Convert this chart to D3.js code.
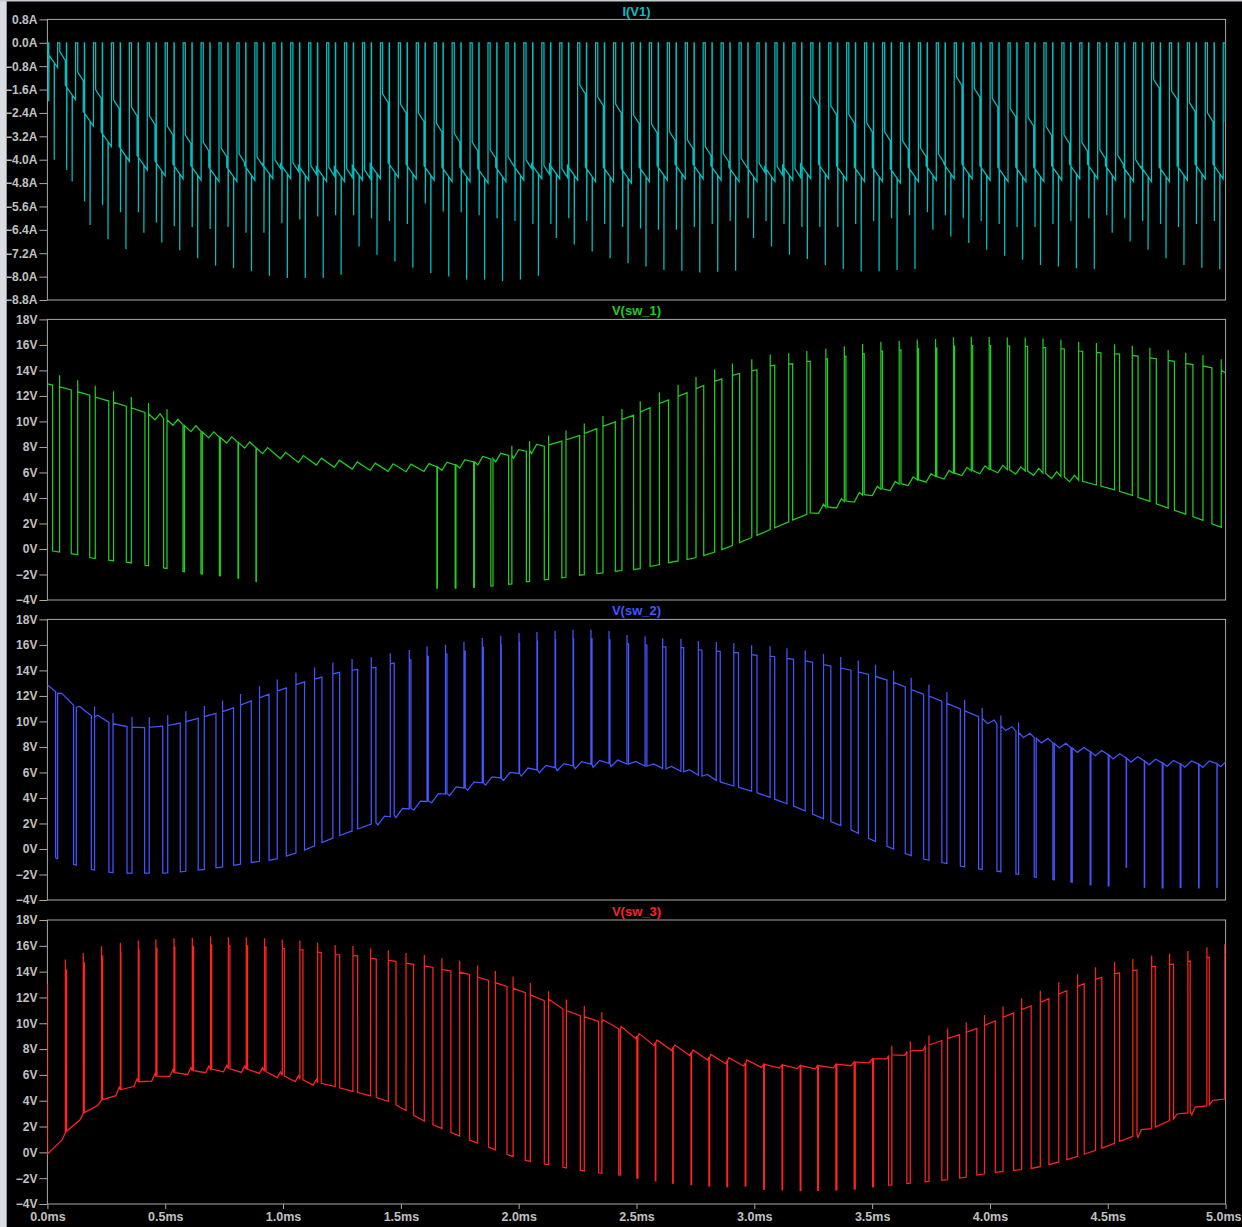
<!DOCTYPE html>
<html><head><meta charset="utf-8">
<script src="https://cdn.jsdelivr.net/npm/d3@7/dist/d3.min.js"></script>
<style>
html,body{margin:0;padding:0;background:#000;overflow:hidden;}
svg{display:block;}
</style></head><body>
<svg id="chart" width="1242" height="1227"></svg>
<script>
// ---------------- DATA ----------------
const timeTicks = [0, 0.5, 1, 1.5, 2, 2.5, 3, 3.5, 4, 4.5, 5];          // ms
const currentTicks = [0.8, 0, -0.8, -1.6, -2.4, -3.2, -4, -4.8, -5.6, -6.4, -7.2, -8, -8.8]; // A
const voltTicks = [18, 16, 14, 12, 10, 8, 6, 4, 2, 0, -2, -4];          // V
const traceNames = ["I(V1)", "V(sw_1)", "V(sw_2)", "V(sw_3)"];
const pwmPeriod = 0.0761;   // ms, switching period (66 periods over 5 ms)
const timeEnd = 5;          // ms

// ---- V(sw_1): per switching period k = 0..65 ----
const sw1Hi = [12.9,12.6,12.2,11.75,11.35,10.9,10.4,9.95,9.45,8.95,8.55,
  8.15,7.55,7.2,6.98,6.78,6.63,6.5,6.41,6.37,6.35,6.4,
  6.5,6.7,6.95,7.2,7.5,7.9,8.3,8.7,9.25,9.8,10.3,
  10.9,11.55,12.1,12.7,13.25,13.7,14.0,14.4,14.5,14.7,14.9,
  15.1,15.3,15.5,15.6,15.7,15.75,15.9,15.95,15.95,15.9,15.9,
  15.8,15.7,15.5,15.4,15.3,15.15,14.95,14.75,14.5,14.3,14.0];
const sw1Lo = [-0.2,-0.4,-0.72,-0.9,-1.06,-1.3,-1.5,-1.77,-1.95,-2.1,-2.3,
  -2.55,null,null,null,null,null,null,null,null,null,-3.07,
  -3.07,-3.0,-2.9,-2.76,-2.55,-2.4,-2.24,-2.03,-1.9,-1.71,-1.6,
  -1.3,-1.0,-0.77,-0.4,0.1,0.7,1.3,1.9,2.5,3.08,3.5,
  3.98,4.5,4.9,5.3,5.55,5.8,6.07,6.2,6.28,6.15,6.07,
  5.8,5.55,5.15,4.8,4.37,3.9,3.38,2.88,2.4,1.84,null];
const sw1Dn = [0.29,0.33,0.36,0.42,0.40,0.44,0.48,0.56,0.56,0.59,0.63,
  0.63,null,null,null,null,null,null,null,null,null,0.72,
  0.74,0.77,0.73,0.72,0.71,0.71,0.69,0.68,0.64,0.67,0.69,
  0.61,0.64,0.67,0.6,0.61,0.6,0.57,0.56,0.56,0.54,0.5,
  0.53,0.55,0.57,0.6,0.58,0.6,0.59,0.6,0.6,0.66,0.66,
  0.67,0.71,0.73,0.75,0.79,0.82,0.84,0.85,0.88,0.94,null];
const sw1Up = [0.68,0.69,0.67,0.69,0.68,0.64,0.67,0.64,0.64,0.64,0.66,
  0.65,null,null,null,null,null,null,null,null,null,0.75,
  0.78,0.81,0.85,0.90,0.89,0.95,0.92,0.94,0.98,1.04,1.06,
  1.13,1.17,1.17,1.21,1.2,1.28,1.31,1.34,1.35,1.41,1.44,
  1.46,1.48,1.5,1.51,1.53,1.53,1.52,1.52,1.53,1.53,1.52,
  1.52,1.51,1.5,1.51,1.5,1.48,1.5,1.48,1.44,1.46,null];

// ---- V(sw_2) ----
const sw2Hi = [12.6,11.7,10.7,10.1,9.65,9.5,9.55,9.75,10.1,10.5,10.9,
  11.45,12.0,12.5,13.0,13.4,13.8,14.05,14.2,14.55,14.8,15.1,
  15.26,15.5,15.8,16.0,16.2,16.3,16.4,16.5,16.5,16.4,16.1,
  16.0,15.85,15.8,15.6,15.5,15.4,15.2,15.1,14.9,14.7,14.4,
  14.1,13.8,13.4,12.9,12.3,11.8,11.2,10.6,10.0,9.45,8.9,
  8.5,8.1,7.75,7.5,7.25,7.0,6.8,6.7,6.65,6.65,6.7];
const sw2Lo = [-0.72,-1.24,-1.63,-1.84,-1.9,-1.9,-1.9,-1.77,-1.63,-1.45,-1.24,
  -1.0,-0.85,-0.46,0.06,0.7,1.24,1.76,2.28,2.9,3.46,4.05,
  4.6,5.0,5.4,5.75,6.1,6.3,6.45,6.6,6.7,6.72,6.6,
  6.4,6.2,5.94,5.55,5.08,4.7,4.24,3.72,3.2,2.54,2.0,
  1.37,0.7,0.1,-0.46,-0.85,-1.1,-1.37,-1.58,-1.76,-1.97,-2.2,
  -2.4,-2.6,-2.8,-2.9,-1.4,-3.0,-3.05,-3.0,-3.05,-3.0,null];
const sw2Dn = [0.46,0.46,0.45,0.43,0.44,0.42,0.43,0.41,0.41,0.4,0.38,
  0.37,0.36,0.32,0.34,0.31,0.3,0.3,0.32,0.34,0.27,0.24,
  0.28,0.3,0.31,0.31,0.33,0.33,0.34,0.34,0.37,0.37,0.41,
  0.43,0.49,0.48,0.5,0.52,0.54,0.57,0.56,0.61,0.67,0.69,
  0.81,0.79,0.82,0.84,0.86,0.88,0.91,0.93,0.95,1.01,1.03,
  1.07,1.08,1.15,1.16,1.16,1.17,1.17,1.17,1.2,1.22,null];
const sw2Up = [0.57,0.61,0.63,0.66,0.72,0.68,0.71,0.72,0.75,0.77,0.77,
  0.83,0.82,0.86,0.9,0.92,0.99,1.06,1.12,1.18,1.17,1.2,
  1.23,1.25,1.28,1.3,1.3,1.31,1.31,1.31,1.32,1.32,1.33,
  1.31,1.33,1.3,1.3,1.28,1.27,1.3,1.24,1.26,1.28,1.24,
  1.22,1.18,1.19,1.17,1.16,1.16,1.15,1.13,1.17,1.16,1.14,
  1.15,1.15,1.19,1.2,1.18,1.19,1.21,1.21,1.22,1.23,null];

// ---- V(sw_3) ----
const sw3Hi = [13.0,14.1,14.65,15.2,15.5,15.7,15.8,15.9,15.95,16.06,16.0,
  16.0,15.9,15.8,15.7,15.5,15.3,15.25,15.0,14.85,14.6,14.4,
  14.1,13.9,13.45,13.0,12.55,12.0,11.35,10.75,10.35,9.8,9.3,
  8.7,8.3,7.9,7.55,7.2,7.0,6.85,6.8,6.75,6.7,6.75,
  6.9,7.1,7.4,7.67,8.0,8.5,8.96,9.43,10.0,10.64,11.2,
  11.75,12.4,12.97,13.5,13.87,14.1,14.4,14.57,14.8,15.1,15.3];
const sw3Lo = [0.7,2.4,3.7,4.45,5.25,5.67,6.1,6.25,6.4,6.5,6.45,
  6.43,6.1,5.78,5.5,5.25,4.85,4.5,4.15,3.5,2.6,2.0,
  1.4,0.83,0.31,-0.25,-0.67,-0.93,-1.18,-1.42,-1.6,-1.75,-2.0,
  -2.2,-2.4,-2.5,-2.6,-2.65,-2.6,-2.86,-2.9,-2.97,-2.95,-2.9,
  -2.84,-2.66,-2.53,-2.4,-2.27,-2.14,-1.96,-1.7,-1.5,-1.37,-1.2,
  -0.85,-0.45,0.0,0.5,1.05,1.6,2.2,2.85,3.35,3.9,4.3];
const sw3Dn = [0.01,0.07,0.06,0.08,0.1,0.11,0.11,0.11,0.15,0.16,0.18,
  0.16,0.19,0.21,0.25,0.27,0.3,0.3,0.34,0.44,0.42,0.5,
  0.5,0.54,0.6,0.63,0.65,0.71,0.75,0.72,0.74,0.86,0.87,
  0.9,0.87,0.89,0.89,0.89,0.91,0.94,0.97,0.98,0.95,0.97,
  0.99,1.02,0.91,0.93,0.95,0.88,0.87,0.83,0.86,0.88,0.86,
  0.85,0.85,0.82,0.8,0.79,0.76,0.78,0.8,0.73,0.79,null];
const sw3Up = [1.0,1.0,1.02,1.07,1.07,1.05,1.06,1.08,1.1,1.09,1.09,
  1.11,1.1,1.08,1.07,1.05,1.04,1.02,1.01,1.0,1.02,1.0,
  0.99,0.99,0.98,0.97,0.93,0.95,0.94,0.94,0.92,0.95,0.93,
  0.93,0.9,0.92,0.93,0.93,0.95,0.98,1.0,1.02,0.99,1.03,
  1.05,1.07,1.09,1.12,1.16,1.2,1.24,1.26,1.29,1.33,1.37,
  1.4,1.45,1.45,1.51,1.53,1.58,1.58,1.6,1.66,1.66,null];

// ripple of the floating (back-EMF) level: amplitude (V), trough phase, peak phase
const rippleAmp = [0.6, 0.5, 0.5];
const ripplePhase = [[0.0, 0.28], [0.43, 0.8], [0.82, 1.0]];
const overshootFrac = 0.07;

// ---- I(V1): per switching period ----
const iBase = [-0.6,-1.7,-2.6,-3.3,-3.8,-4.1,-4.3,-4.4,-4.45,-4.5,-4.5,
  -4.45,-4.4,-4.4,-4.45,-4.5,-4.5,-4.45,-4.4,-4.35,-4.4,-4.45,
  -4.5,-4.5,-4.55,-4.5,-4.45,-4.4,-4.4,-4.45,-4.5,-4.5,-4.55,
  -4.5,-4.45,-4.4,-4.4,-4.45,-4.5,-4.5,-4.5,-4.45,-4.4,-4.4,
  -4.45,-4.5,-4.5,-4.55,-4.5,-4.45,-4.4,-4.4,-4.45,-4.5,-4.5,
  -4.5,-4.45,-4.4,-4.4,-4.45,-4.5,-4.5,-4.5,-4.45,-4.4,-4.4];
const iShelf = [-0.3,-1.0,-1.6,-1.95,-2.2,-2.5,-2.85,-3.15,-3.4,-3.6,-3.8,
  -3.9,-4.0,-4.1,-4.2,-4.25,-4.3,-4.35,-1.75,-2.1,-2.4,-2.75,
  -3.1,-3.4,-3.65,-3.9,-4.0,-4.2,-4.3,-1.45,-1.85,-2.1,-2.47,
  -2.78,-3.04,-3.32,-3.55,-3.78,-3.95,-4.12,-4.23,-4.3,-1.85,-2.16,
  -2.45,-2.75,-3.05,-3.35,-3.6,-3.8,-1.16,-1.56,-1.9,-2.24,-2.55,
  -2.87,-3.15,-3.41,-3.66,-3.85,-4.0,-1.25,-1.64,-2.05,-2.4,-2.7];
const iDeep = [-4.0,-4.75,-6.23,-6.72,-7.06,-6.5,-6.83,-7.1,-7.37,-7.63,-7.71,
  -7.82,-7.97,-8.05,-8.05,-8.05,-7.94,-6.97,-7.25,-7.48,-7.7,-7.88,
  -8.0,-8.1,-8.1,-8.16,-8.1,-7.97,-6.68,-6.9,-7.14,-7.37,-7.54,
  -7.65,-7.77,-7.8,-7.86,-7.83,-7.8,-6.68,-6.97,-7.25,-7.4,-7.6,
  -7.74,-7.82,-7.82,-7.77,-7.74,-6.4,-6.63,-6.85,-7.08,-7.29,-7.42,
  -7.6,-7.65,-7.71,-7.74,-6.5,-6.8,-7.08,-7.37,-7.6,-7.7,-7.75];
const iShal = [-2.0,-4.35,-5.43,-5.54,-5.8,-5.8,-6.15,-6.28,-6.3,-6.37,-6.3,
  -6.5,-6.5,-6.17,-6.05,-5.94,-5.9,-5.9,-6.0,-6.1,-6.2,-5.5,
  -5.77,-5.8,-5.9,-6.0,-6.1,-6.2,-6.2,-6.0,-6.1,-6.2,-6.3,
  -6.35,-6.4,-6.4,-6.3,-6.2,-6.1,-6.0,-6.1,-6.2,-6.3,-6.3,
  -6.3,-6.2,-6.1,-6.0,-5.9,-5.8,-5.9,-6.0,-6.1,-6.2,-6.3,
  -6.3,-6.2,-6.1,-6.0,-5.9,-6.0,-6.1,-6.2,-6.3,-6.2,-6.1];

// ---------------- LAYOUT ----------------
const W = 1242, H = 1227;
const X0 = 47.4, X1 = 1225.6;
const boxes = [[19.4, 300], [319.4, 600], [619.4, 900], [920, 1204]];
const colors = ["#00c0c0", "#22cc22", "#4455ff", "#ff2222"];
const axisCol = "#a8a8a8", textCol = "#c0c0c0";
const svg = d3.select("#chart");
const P = pwmPeriod;

svg.append("rect").attr("width", W).attr("height", H).attr("fill", "#000");
svg.append("rect").attr("x", 0).attr("y", 0).attr("width", 7).attr("height", H).attr("fill", "#d9dde2");
svg.append("line").attr("x1", 6.5).attr("x2", 6.5).attr("y1", 0).attr("y2", H).attr("stroke", "#9098a0");
svg.append("rect").attr("x", 0).attr("y", 0).attr("width", W).attr("height", 1.5).attr("fill", "#c8ccd2");

const x = d3.scaleLinear().domain([0, timeEnd]).range([X0, X1]);

function interp(anchors, t) {
  const n = anchors.length;
  if (n === 1) return anchors[0][1];
  let i = 0;
  if (t <= anchors[0][0]) i = 0;
  else if (t >= anchors[n - 1][0]) i = n - 2;
  else { while (i < n - 2 && anchors[i + 1][0] < t) i++; }
  const [t0, v0] = anchors[i], [t1, v1] = anchors[i + 1];
  return v0 + (v1 - v0) * (t - t0) / (t1 - t0);
}

function buildSwitch(hi, lo, dn, up, pi) {
  const n = hi.length;
  const hiA = [], loA = [];
  for (let k = 0; k < n; k++) {
    if (hi[k] == null) continue;
    let tc;
    if (dn[k] != null) {
      const tf = (k + dn[k]) * P;
      let ts = (k > 0 && dn[k - 1] != null) ? (k - 1 + up[k - 1]) * P : k * P;
      if (ts > tf) ts = k * P;
      tc = (ts + tf) / 2;
    } else tc = (k + 0.5) * P;
    hiA.push([tc, hi[k]]);
  }
  for (let k = 0; k < n; k++) if (lo[k] != null && dn[k] != null) loA.push([(k + (dn[k] + up[k]) / 2) * P, lo[k]]);
  hiA.sort((a, b) => a[0] - b[0]); loA.sort((a, b) => a[0] - b[0]);
  const Hf = t => interp(hiA, t), Lf = t => interp(loA, t);
  const amp = rippleAmp[pi], [phT, phP] = ripplePhase[pi];
  const pts = [];
  function seg(f, ta, tb) {
    pts.push([ta, f(ta)]);
    if (tb - ta > 0.8 * P) {
      const v = [];
      for (let m = Math.floor(ta / P) - 2; m <= Math.ceil(tb / P) + 1; m++) {
        [[phT, -1], [phP, 1]].forEach(([ph, s]) => {
          const tt = (m + ph) * P;
          if (tt > ta + 0.04 * P && tt < tb - 0.04 * P) v.push([tt, s]);
        });
      }
      v.sort((a, b) => a[0] - b[0]);
      v.forEach(([tt, s]) => pts.push([tt, f(tt) + s * amp / 2]));
    }
    pts.push([tb, f(tb)]);
  }
  let ts = 0;
  for (let k = 0; k < n; k++) {
    if (dn[k] == null) continue;
    const tf = (k + dn[k]) * P, tr = (k + up[k]) * P;
    seg(Hf, ts, tf);
    seg(Lf, tf, tr);
    if (tr - tf > 0.15 * P) pts.push([tr, Hf(tr) + overshootFrac * (Hf(tr) - Lf(tr))]);
    ts = tr;
  }
  seg(Hf, ts, timeEnd + P);
  return pts;
}

function buildCurrent() {
  const pts = [[0, 0]];
  for (let k = 0; k < iBase.length; k++) {
    const t = ph => (k + ph) * P;
    const b = iBase[k];
    const bv = ph => b + 0.25 - 0.5 * ph / 0.57;
    pts.push([t(0), bv(0)]);
    pts.push([t(0.06), bv(0.06)], [t(0.06), 0], [t(0.075), 0], [t(0.075), iShal[k]], [t(0.09), bv(0.09)]);
    pts.push([t(0.38), bv(0.38)], [t(0.38), iDeep[k]], [t(0.39), bv(0.39)]);
    pts.push([t(0.57), bv(0.57)], [t(0.57), 0], [t(0.69), 0], [t(0.69), iShelf[k]], [t(1), iShelf[k] - 0.3]);
  }
  return pts;
}

const series = [
  buildCurrent(),
  buildSwitch(sw1Hi, sw1Lo, sw1Dn, sw1Up, 0),
  buildSwitch(sw2Hi, sw2Lo, sw2Dn, sw2Up, 1),
  buildSwitch(sw3Hi, sw3Lo, sw3Dn, sw3Up, 2)
];

const titleY = [15.5, 315, 615, 916];
boxes.forEach(([y0, y1], i) => {
  const isI = i === 0;
  const y = d3.scaleLinear().domain(isI ? [-8.8, 0.8] : [-4, 18]).range([y1, y0]);
  const g = svg.append("g");
  const clipId = "clip" + i;
  svg.append("clipPath").attr("id", clipId).append("rect")
    .attr("x", X0).attr("y", y0).attr("width", X1 - X0).attr("height", y1 - y0);
  g.append("rect").attr("x", X0).attr("y", y0).attr("width", X1 - X0).attr("height", y1 - y0)
    .attr("fill", "none").attr("stroke", axisCol).attr("stroke-width", 1);
  const yAxis = d3.axisLeft(y).tickValues(isI ? currentTicks : voltTicks)
    .tickSize(8).tickPadding(2)
    .tickFormat(d => isI ? d3.format(".1f")(d) + "A" : d3.format("d")(d) + "V");
  const ya = g.append("g").attr("transform", `translate(${X0},0)`).call(yAxis);
  ya.select(".domain").remove();
  ya.selectAll("line").attr("stroke", axisCol);
  ya.selectAll("text").attr("fill", textCol).attr("font-family", "'Liberation Sans', Arial, sans-serif")
    .attr("font-weight", "bold").attr("font-size", 12);
  const line = d3.line().x(d => x(d[0])).y(d => y(d[1]));
  g.append("path").datum(series[i]).attr("d", line).attr("fill", "none")
    .attr("stroke", colors[i]).attr("stroke-width", 1.25).attr("stroke-linejoin", "miter")
    .attr("clip-path", `url(#${clipId})`);
  g.append("text").attr("x", (X0 + X1) / 2).attr("y", titleY[i]).attr("text-anchor", "middle")
    .attr("fill", colors[i]).attr("font-family", "'Liberation Sans', Arial, sans-serif")
    .attr("font-weight", "bold").attr("font-size", 13).text(traceNames[i]);
});

// x axis under last panel
const xAxis = d3.axisBottom(x).tickValues(timeTicks).tickSize(5).tickPadding(3)
  .tickFormat(d => d3.format(".1f")(d) + "ms");
const xa = svg.append("g").attr("transform", `translate(0,${boxes[3][1]})`).call(xAxis);
xa.select(".domain").remove();
xa.selectAll("line").attr("stroke", axisCol);
xa.selectAll("text").attr("fill", textCol).attr("font-family", "'Liberation Sans', Arial, sans-serif")
  .attr("font-weight", "bold").attr("font-size", 12.5);
// keep the last label inside the picture, right-aligned to the edge as in the reference
xa.selectAll(".tick").filter(d => d === timeEnd).select("text")
  .attr("text-anchor", "end").attr("x", W - 1 - x(timeEnd));
</script>
</body></html>
